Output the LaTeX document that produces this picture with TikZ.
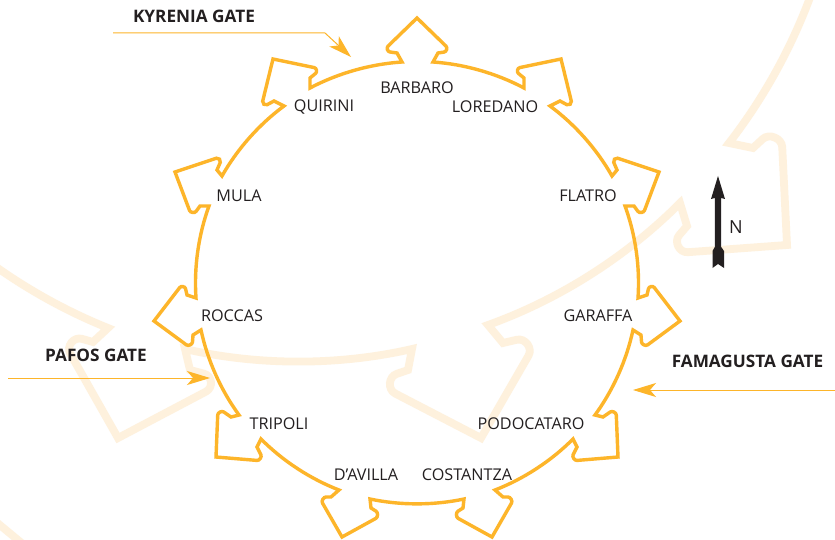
\documentclass[tikz,border=0pt]{standalone}
\usepackage{fontspec}
\setmainfont{Open Sans}
\usetikzlibrary{arrows.meta,calc}
\definecolor{fort}{HTML}{FDB52A}
\definecolor{ghost}{HTML}{FEF1DD}
\definecolor{ink}{HTML}{231F20}
% rounded knob: from previous point A, corner P, toward B, cut length d
\newcommand\knob[4]{-- ($(#2)!#4!(#1)$) .. controls ($(#2)!.65*#4!(#1)$) and ($(#2)!.65*#4!(#3)$) .. ($(#2)!#4!(#3)$) -- (#3)}
\tikzset{
  x=1pt,y=1pt,
  seg/.style={bend left=12,looseness=.85},
  ghostline/.style={draw=ghost,line width=7.8pt,miter limit=10},
  wall/.style={draw=fort,line width=3.4pt,miter limit=10},
  lbl/.style={font=\fontsize{16.2}{18}\selectfont,text=ink,inner sep=0pt},
  gate/.style={font=\fontsize{17.2}{20}\selectfont\bfseries,text=ink,inner sep=0pt},
  gatearrow/.style={draw=fort,line width=1pt,-{Stealth[length=23pt,width=14pt,inset=6pt,fill=fort]}},
}
\begin{document}
\begin{tikzpicture}
\clip (0,-540) rectangle (835,0);
\fill[white] (0,-540) rectangle (835,0);
% ghost outline
\draw[ghostline] (812,8) to[bend left=9,looseness=.85] (729,-143) -- (753,-148)
  \knob{753,-148}{781,-122}{787,-245}{25pt}
  \knob{787,-245}{663,-254}{687,-226}{25pt} -- (680,-203)
  to[bend left=12.7,looseness=.85] (488,-325) -- (503,-343)
  \knob{503,-343}{541,-334}{481,-438}{25pt}
  \knob{481,-438}{373,-382}{408,-370}{25pt} -- (412,-349)
  to[bend left=12.9,looseness=.85] (185,-349) -- (190,-370)
  \knob{190,-370}{228,-380}{118,-438}{25pt}
  \knob{118,-438}{58,-332}{93,-342}{25pt} -- (108,-328)
  to[bend left=7,looseness=.85] (-8,-264);
\draw[ghostline] (-5,-521) -- (24,-545);
% wall
\draw[wall]
  (402,-62) -- (397,-53) \knob{397,-53}{383,-51}{417,-18}{7pt}
  \knob{417,-18}{451,-51}{438,-53}{7pt} -- (433,-62)
  to[seg] (524,-88) -- (524,-78) \knob{524,-78}{513,-69}{561,-59}{7pt}
  \knob{561,-59}{573,-108}{560,-101}{7pt} -- (550,-106)
  to[seg] (612,-176) -- (617,-170) \knob{617,-170}{611,-156}{659,-172}{7pt}
  \knob{659,-172}{642,-217}{634,-206}{7pt} -- (625,-206)
  to[seg] (638,-298) -- (647,-295) \knob{647,-295}{650,-282}{680,-321}{7pt}
  \knob{680,-321}{642,-349}{641,-335}{7pt} -- (633,-330)
  to[seg] (595,-415) -- (603,-417) \knob{603,-417}{616,-408}{618,-457}{7pt}
  \knob{618,-457}{570,-461}{577,-447}{7pt} -- (573,-439)
  to[seg] (495,-490) -- (503,-497) \knob{503,-497}{515,-497}{492,-537}{7pt}
  \knob{492,-537}{452,-515}{463,-508}{7pt} -- (464,-499)
  to[seg] (370,-499) -- (371,-508) \knob{371,-508}{382,-515}{342,-537}{7pt}
  \knob{342,-537}{319,-497}{331,-497}{7pt} -- (339,-490)
  to[seg] (261,-439) -- (257,-447) \knob{257,-447}{264,-461}{216,-457}{7pt}
  \knob{216,-457}{218,-408}{231,-417}{7pt} -- (239,-415)
  to[seg] (201,-330) -- (193,-335) \knob{193,-335}{192,-349}{154,-321}{7pt}
  \knob{154,-321}{184,-282}{187,-295}{7pt} -- (196,-298)
  to[seg] (209,-206) -- (200,-206) \knob{200,-206}{192,-217}{175,-172}{7pt}
  \knob{175,-172}{223,-156}{217,-170}{7pt} -- (222,-176)
  to[seg] (284,-106) -- (274,-101) \knob{274,-101}{261,-108}{273,-59}{7pt}
  \knob{273,-59}{321,-69}{310,-78}{7pt} -- (310,-88)
  to[seg] cycle;
% labels
\node[lbl] (barbaro) at (417,-88) {BARBARO};
\node[lbl] (loredano) at (495,-107) {LOREDANO};
\node[lbl] (quirini) at (324,-107) {QUIRINI};
\node[lbl] (flatro) at (588,-196) {FLATRO};
\node[lbl] (mula) at (239,-196) {MULA};
\node[lbl] (roccas) at (232,-316) {ROCCAS};
\node[lbl] (garaffa) at (598,-316) {GARAFFA};
\node[lbl] (tripoli) at (279,-424) {TRIPOLI};
\node[lbl] (podocataro) at (531,-424) {PODOCATARO};
\node[lbl] (davilla) at (366,-475) {D’AVILLA};
\node[lbl] (costantza) at (467,-475) {COSTANTZA};
\node[gate] (kyrenia) at (194,-16) {KYRENIA GATE};
\node[gate] (pafos) at (96,-355) {PAFOS GATE};
\node[gate] (famagusta) at (747.5,-361) {FAMAGUSTA GATE};
\node[lbl,font=\fontsize{18}{20}\selectfont] (north) at (736,-227) {N};
% gate arrows
\coordinate (kstart) at (113,-33); \coordinate (kbend) at (325,-33); \coordinate (ktip) at (351,-57);
\coordinate (pstart) at (8,-378); \coordinate (ptip) at (210,-378);
\coordinate (fstart) at (835,-390); \coordinate (ftip) at (633,-390);
\draw[gatearrow] (kstart) -- (kbend) -- (ktip);
\draw[gatearrow] (pstart) -- (ptip);
\draw[gatearrow] (fstart) -- (ftip);
% north arrow
\fill[ink] (718,-176) -- (725,-199) -- (721.2,-198) -- (721.2,-247) -- (724,-251) -- (724,-268) -- (718,-264) -- (712.5,-268) -- (712.5,-251) -- (714.8,-247) -- (714.8,-198) -- (711,-199) -- cycle;
\end{tikzpicture}
\end{document}
